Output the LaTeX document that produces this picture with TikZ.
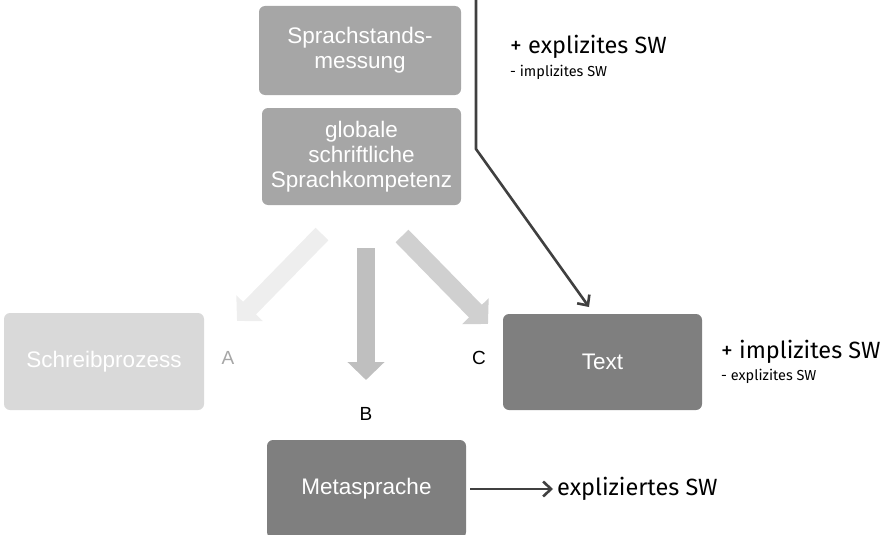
\documentclass[tikz,border=0pt]{standalone}
\usepackage{fontspec}
\setmainfont{Liberation Sans}
\newfontfamily\notefont{Fira Sans}
\usetikzlibrary{arrows.meta}
\definecolor{boxmid}{HTML}{A6A6A6}
\definecolor{boxdark}{HTML}{7F7F7F}
\definecolor{boxlight}{HTML}{D9D9D9}
\definecolor{arrA}{HTML}{EEEEEE}
\definecolor{arrB}{HTML}{BFBFBF}
\definecolor{arrC}{HTML}{D0D0D0}
\definecolor{ink}{HTML}{404040}
\begin{document}
\begin{tikzpicture}[x=1pt,y=-1pt,
  card/.style={rounded corners=6pt, text=white, align=center,
    font=\fontsize{22.5}{25}\selectfont, inner sep=0pt},
  blockarrow/.style={line width=18pt, line cap=butt,
    -{Triangle[length=18pt,width=36pt]}},
  darr/.style={draw=ink, line width=2.6pt,
    -{Straight Barb[length=8pt,width=15pt,line width=2.6pt]}},
  bignote/.style={anchor=west, inner sep=0pt, font=\notefont\fontsize{23.5}{26}\selectfont},
  smallnote/.style={anchor=west, inner sep=0pt, font=\notefont\fontsize{14.5}{16}\selectfont},
  letter/.style={font=\fontsize{19}{21}\selectfont, inner sep=0pt}]
\clip (0,0) rectangle (889,535);

% boxes
\node[card, fill=boxmid, minimum width=202pt, minimum height=89pt] (mess) at (360,50.5) {Sprachstands-\\messung};
\node[card, fill=boxmid, minimum width=199pt, minimum height=97pt] (glob) at (361.5,156.5) {globale\\schriftliche\\Sprachkompetenz};
\node[card, fill=boxlight, minimum width=200pt, minimum height=97pt] (schreib) at (104,361.5) {Schreibprozess};
\node[card, fill=boxdark, minimum width=199pt, minimum height=96pt] (text) at (602.5,362) {Text};
\node[card, fill=boxdark, minimum width=199pt, minimum height=98pt] (meta) at (366.5,489) {Metasprache};

% letters
\node[letter, text=boxmid] (la) at (228,358) {A};
\node[letter] (lb) at (366,414) {B};
\node[letter] (lc) at (479,358) {C};

% block arrows from the competence box
\coordinate (aS) at (322,234);  \coordinate (aT) at (237,321);
\coordinate (bS) at (366,248);  \coordinate (bT) at (366,380);
\coordinate (cS) at (402,236);  \coordinate (cT) at (488,324);
\draw[blockarrow, arrA] (aS) -- (aT);
\draw[blockarrow, arrB] (bS) -- (bT);
\draw[blockarrow, arrC] (cS) -- (cT);

% measurement line into the text box
\coordinate (mtop) at (476,-3);
\coordinate (mbend) at (476,149);
\coordinate (mtip) at (589,307);
\draw[darr, line join=miter] (mtop) -- (mbend) -- (mtip);

% annotations
\node[bignote] (n1) at (510,47) {+ explizites SW};
\node[smallnote] (n2) at (510,72) {- implizites SW};
\node[bignote] (n3) at (721,352) {+ implizites SW};
\node[smallnote] (n4) at (721,376) {- explizites SW};
\node[bignote] (expl) at (557,489) {expliziertes SW};

\draw[darr] ([xshift=4pt]meta.east) -- ([xshift=-4pt]expl.west);
\end{tikzpicture}
\end{document}
